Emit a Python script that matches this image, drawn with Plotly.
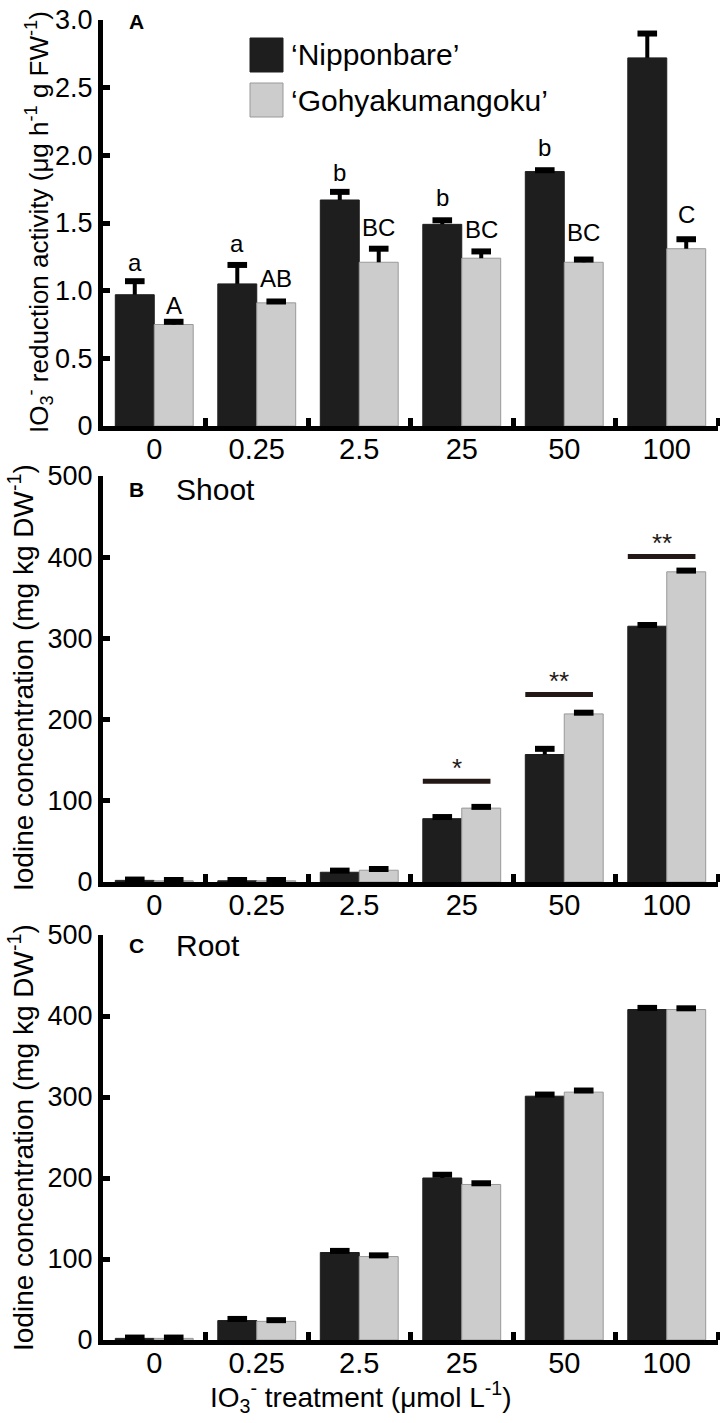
import numpy as np
import plotly.graph_objects as go

# ---------------- data ----------------
categories = ["0", "0.25", "2.5", "25", "50", "100"]
series_names = ["\u2018Nipponbare\u2019", "\u2018Gohyakumangoku\u2019"]

# Panel A: IO3- reduction activity
a_nip = [0.97, 1.05, 1.67, 1.49, 1.88, 2.72]
a_nip_err = [0.10, 0.14, 0.06, 0.03, 0.01, 0.18]
a_goh = [0.75, 0.91, 1.21, 1.24, 1.21, 1.31]
a_goh_err = [0.02, 0.01, 0.10, 0.05, 0.02, 0.07]
a_nip_letters = ["a", "a", "b", "b", "b", "c"]
a_nip_letter_y = [1.21, 1.35, 1.87, 1.69, 2.06, 3.03]
a_goh_letters = ["A", "AB", "BC", "BC", "BC", "C"]
a_goh_letter_y = [0.89, 1.09, 1.47, 1.45, 1.43, 1.56]

# Panel B: shoot iodine concentration
b_nip = [2, 1.5, 12, 78, 157, 315]
b_nip_err = [1, 1, 2, 2, 7, 1.5]
b_goh = [1.5, 1.5, 14.5, 91, 207, 382]
b_goh_err = [1, 1, 1.5, 1.5, 1.5, 1.5]
b_sig_cat = [3, 4, 5]
b_sig_line = [124, 231, 401]
b_sig_text = ["*", "**", "**"]

# Panel C: root iodine concentration
c_nip = [2, 24, 108, 200, 301, 408]
c_nip_err = [1, 2, 2, 4, 2, 2]
c_goh = [2, 23, 103, 192, 306, 408]
c_goh_err = [1, 1.5, 1.5, 1.5, 2, 1.5]

a_ticks = [0, 0.5, 1.0, 1.5, 2.0, 2.5, 3.0]
a_ticktext = ["0", "0.5", "1.0", "1.5", "2.0", "2.5", "3.0"]
bc_ticks = [0, 100, 200, 300, 400, 500]

# ---------------- style ----------------
BLACK = "#1e1e1e"
GRAY = "#cccccc"
FONT = "Liberation Sans, Arial, sans-serif"
W, H = 720, 1423
ML, MR, MT, MB = 103, 2, 20, 83
idx = np.arange(len(categories))
off = 0.19
bw = 0.38

fig = go.Figure()


def add_panel(nip, nip_err, goh, goh_err, xa, ya):
    xn = idx - off
    xg = idx + off
    fig.add_trace(go.Bar(x=xn, y=nip, width=bw, marker=dict(color=BLACK, line=dict(color=BLACK, width=1)),
                         xaxis=xa, yaxis=ya, showlegend=False))
    fig.add_trace(go.Bar(x=xg, y=goh, width=bw, marker=dict(color=GRAY, line=dict(color="#999999", width=1)),
                         xaxis=xa, yaxis=ya, showlegend=False))
    for xs, v, e in ((xn, nip, nip_err), (xg, goh, goh_err)):
        top = np.array(v) + np.array(e)
        fig.add_trace(go.Scatter(
            x=xs, y=top, mode="markers", xaxis=xa, yaxis=ya, showlegend=False,
            marker=dict(symbol="line-ew", size=14, line=dict(width=6, color="black")),
            error_y=dict(type="data", symmetric=False, array=[0] * len(e), arrayminus=list(e),
                         width=0, thickness=4, color="black"),
            cliponaxis=False))


add_panel(a_nip, a_nip_err, a_goh, a_goh_err, "x", "y")
add_panel(b_nip, b_nip_err, b_goh, b_goh_err, "x2", "y2")
add_panel(c_nip, c_nip_err, c_goh, c_goh_err, "x3", "y3")

plot_h = H - MT - MB


def frac(py):
    return (H - MB - py) / plot_h


dom_a = [frac(426), 1.0]
dom_b = [frac(882), frac(476)]
dom_c = [0.0, frac(935)]

xcommon = dict(range=[-0.5, 5.5], showline=True, linewidth=5, linecolor="black",
               tickmode="array", tickvals=list(idx), ticktext=categories, ticks="",
               tickfont=dict(family=FONT, size=29, color="black"), ticklabelstandoff=-7,
               showgrid=False, zeroline=False, fixedrange=True,
               minor=dict(tickmode="array", tickvals=list(idx + 0.5), ticks="inside",
                          ticklen=8, tickwidth=5, tickcolor="black", showgrid=False))
ycommon = dict(showline=True, linewidth=5, linecolor="black", ticks="inside", ticklen=7,
               tickwidth=5, tickcolor="black", showgrid=False, zeroline=False, fixedrange=True,
               tickfont=dict(family=FONT, size=27, color="black"))

fig.update_layout(
    width=W, height=H, plot_bgcolor="white", paper_bgcolor="white",
    margin=dict(l=ML, r=MR, t=MT, b=MB), barmode="overlay", showlegend=False,
    xaxis=dict(anchor="y", **xcommon),
    xaxis2=dict(anchor="y2", **xcommon),
    xaxis3=dict(anchor="y3", **xcommon),
    yaxis=dict(domain=dom_a, anchor="x", range=[0, 3], tickmode="array", tickvals=a_ticks,
               ticktext=a_ticktext, **ycommon),
    yaxis2=dict(domain=dom_b, anchor="x2", range=[0, 500], tickmode="array", tickvals=bc_ticks, **ycommon),
    yaxis3=dict(domain=dom_c, anchor="x3", range=[0, 500], tickmode="array", tickvals=bc_ticks, **ycommon),
)

ann = []
shapes = []
# significance letters, panel A
for i in idx:
    ann.append(dict(x=i - off, y=a_nip_letter_y[i], xref="x", yref="y", text=a_nip_letters[i],
                    showarrow=False, font=dict(family=FONT, size=24, color="black"), yanchor="middle"))
    ann.append(dict(x=i + off, y=a_goh_letter_y[i], xref="x", yref="y", text=a_goh_letters[i],
                    showarrow=False, font=dict(family=FONT, size=24, color="black"), yanchor="middle"))

# significance bars, panel B
for c, yl, t in zip(b_sig_cat, b_sig_line, b_sig_text):
    shapes.append(dict(type="line", xref="x2", yref="y2", x0=c - 0.38, x1=c + 0.28, y0=yl, y1=yl,
                       line=dict(color="#231815", width=5)))
    ann.append(dict(x=c - 0.05, y=yl, xref="x2", yref="y2", text=t, showarrow=False, yanchor="bottom",
                    yshift=-4, font=dict(family=FONT, size=26, color="#231815")))

# legend (panel A)
for k, (col, lc) in enumerate(((BLACK, BLACK), (GRAY, "#999999"))):
    y0 = (426 - 72 - 45 * k) / 406
    y1 = (426 - 38 - 45 * k) / 406
    shapes.append(dict(type="rect", xref="x domain", yref="y domain", x0=147 / 615, x1=180 / 615,
                       y0=y0, y1=y1, fillcolor=col, line=dict(color=lc, width=1)))
    ann.append(dict(x=186 / 615, y=(y0 + y1) / 2, xref="x domain", yref="y domain", text=series_names[k],
                    showarrow=False, xanchor="left", yanchor="middle",
                    font=dict(family=FONT, size=30, color="black")))

# panel labels
panel_info = [("A", "", "x", "y", 426, 406, 21), ("B", "Shoot", "x2", "y2", 882, 406, 489),
              ("C", "Root", "x3", "y3", 1340, 405, 946)]
for lab, sub, xa, ya, bot, hh, cy in panel_info:
    ann.append(dict(x=(127 - 103) / 615, y=(bot - cy) / hh, xref=xa + " domain", yref=ya + " domain",
                    text="<b>" + lab + "</b>", showarrow=False, xanchor="left", yanchor="middle",
                    font=dict(family=FONT, size=21, color="black")))
    if sub:
        ann.append(dict(x=(174 - 103) / 615, y=(bot - cy) / hh, xref=xa + " domain", yref=ya + " domain",
                        text=sub, showarrow=False, xanchor="left", yanchor="middle",
                        font=dict(family=FONT, size=30, color="black")))

# y-axis titles
ytitles = [("IO<sub>3</sub><sup>-</sup> reduction activity (\u03bcg h<sup>-1</sup> g FW<sup>-1</sup>)", 222, 39, 26),
           ("Iodine concentration (mg kg DW<sup>-1</sup>)", 678, 21, 28),
           ("Iodine concentration (mg kg DW<sup>-1</sup>)", 1138, 21, 28)]
for t, cy, cx, fs in ytitles:
    ann.append(dict(x=(cx - 103) / 615, y=frac(cy), xref="paper", yref="paper", text=t, textangle=-90,
                    showarrow=False, xanchor="center", yanchor="middle",
                    font=dict(family=FONT, size=fs, color="black")))

# x-axis title
ann.append(dict(x=(361 - 103) / 615, y=frac(1397), xref="paper", yref="paper",
                text="IO<sub>3</sub><sup>-</sup> treatment (\u03bcmol L<sup>-1</sup>)", showarrow=False,
                xanchor="center", yanchor="middle", font=dict(family=FONT, size=28, color="black")))

fig.update_layout(annotations=ann, shapes=shapes)
fig.write_html("out.html", config={"displayModeBar": False},
               post_script="document.body.style.margin='0px';document.body.style.padding='0px';")
